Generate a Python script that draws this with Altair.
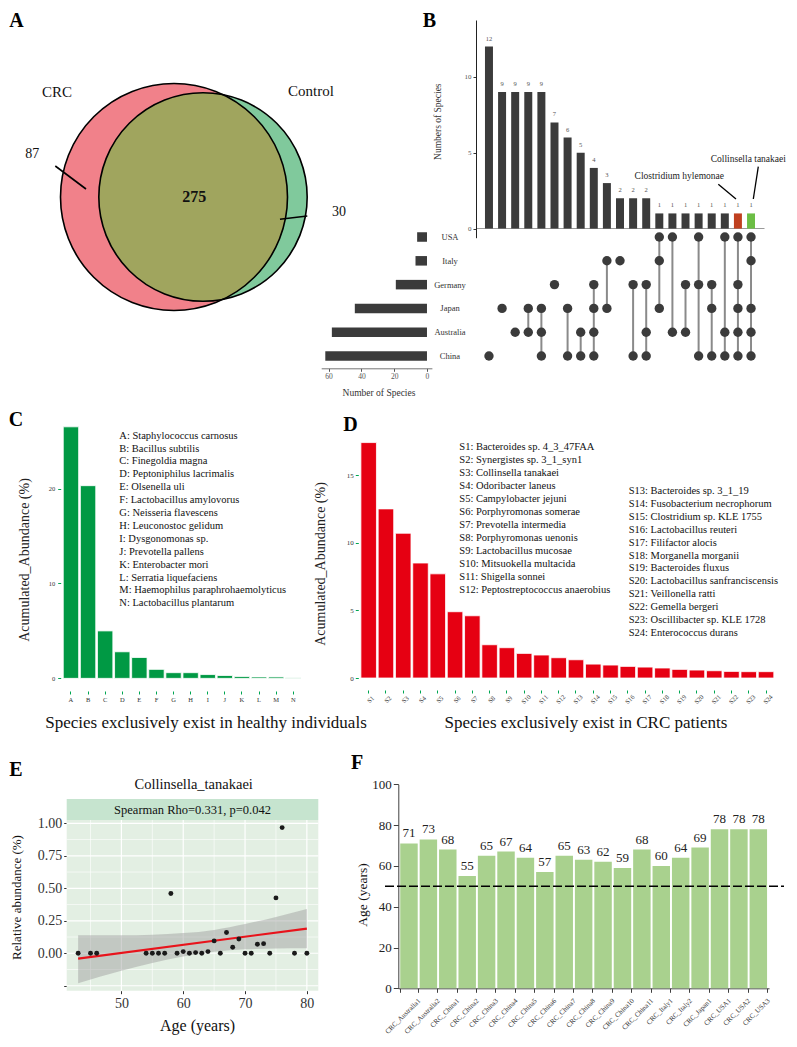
import math
import altair as alt
import pandas as pd

SERIF = "Liberation Serif"
W, H = 781, 1031
M = 8  # page margin


def X(v):
    return v - M


def Y(v):
    return v - M


# ------------------------------------------------------------------ data
venn_groups = ["CRC", "Control"]
venn_unique = [87, 30]
venn_shared = 275

upset_counts = [12, 9, 9, 9, 9, 7, 6, 5, 4, 3, 2, 2, 2, 1, 1, 1, 1, 1, 1, 1, 1]
upset_sets = [
    ["China"], ["Japan"], ["Australia"], ["Japan", "Australia"],
    ["Japan", "Australia", "China"], ["Germany"], ["Japan", "China"],
    ["Australia", "China"], ["Germany", "Japan", "Australia", "China"],
    ["Italy", "Japan"], ["Italy"], ["Germany", "China"],
    ["Germany", "Australia", "China"], ["USA", "Italy", "Japan"],
    ["USA", "Australia"], ["Germany", "Australia"], ["USA", "Germany", "China"],
    ["Germany", "Japan", "China"], ["USA", "Australia", "China"],
    ["USA", "Germany", "Japan", "Australia", "China"],
    ["USA", "Italy", "Japan", "Australia", "China"],
]
upset_group = ["other"] * 19 + ["Clostridium hylemonae", "Collinsella tanakaei"]
countries = ["USA", "Italy", "Germany", "Japan", "Australia", "China"]
country_sizes = [6, 7, 19, 44, 58, 62]

healthy_codes = ["A", "B", "C", "D", "E", "F", "G", "H", "I", "J", "K", "L", "M", "N"]
healthy_species = [
    "Staphylococcus carnosus", "Bacillus subtilis", "Finegoldia magna",
    "Peptoniphilus lacrimalis", "Olsenella uli", "Lactobacillus amylovorus",
    "Neisseria flavescens", "Leuconostoc gelidum", "Dysgonomonas sp.",
    "Prevotella pallens", "Enterobacter mori", "Serratia liquefaciens",
    "Haemophilus paraphrohaemolyticus", "Lactobacillus plantarum",
]
healthy_abund = [26.5, 20.3, 5.0, 2.8, 2.2, 0.95, 0.6, 0.6, 0.4, 0.3, 0.2, 0.15, 0.15, 0.05]

crc_codes = ["S1", "S2", "S3", "S4", "S5", "S6", "S7", "S8", "S9", "S10", "S11", "S12",
             "S13", "S14", "S15", "S16", "S17", "S18", "S19", "S20", "S21", "S22", "S23", "S24"]
crc_species = [
    "Bacteroides sp. 4_3_47FAA", "Synergistes sp. 3_1_syn1", "Collinsella tanakaei",
    "Odoribacter laneus", "Campylobacter jejuni", "Porphyromonas somerae",
    "Prevotella intermedia", "Porphyromonas uenonis", "Lactobacillus mucosae",
    "Mitsuokella multacida", "Shigella sonnei", "Peptostreptococcus anaerobius",
    "Bacteroides sp. 3_1_19", "Fusobacterium necrophorum", "Clostridium sp. KLE 1755",
    "Lactobacillus reuteri", "Filifactor alocis", "Morganella morganii",
    "Bacteroides fluxus", "Lactobacillus sanfranciscensis", "Veillonella ratti",
    "Gemella bergeri", "Oscillibacter sp. KLE 1728", "Enterococcus durans",
]
crc_abund = [17.4, 12.5, 10.7, 8.5, 7.7, 4.9, 4.6, 2.46, 2.24, 1.82, 1.7, 1.5,
             1.35, 1.03, 0.96, 0.86, 0.81, 0.74, 0.64, 0.59, 0.54, 0.49, 0.47, 0.47]

e_age = [43, 45, 46, 54, 55, 56, 57, 58, 59, 60, 61, 62, 63, 64, 65, 66, 67, 68, 69, 70,
         71, 72, 73, 74, 75, 76, 78, 80]
e_abund = [0, 0, 0, 0, 0, 0, 0, 0.46, 0, 0.013, 0, 0.005, 0, 0.013, 0.095, 0, 0.16,
           0.046, 0.11, 0, 0, 0.069, 0.074, 0, 0.426, 0.967, 0, 0]
fit_age = [43, 80]
fit_val = [-0.041, 0.19]
band_age = [43, 50, 55, 60, 65, 70, 75, 80]
band_lo = [-0.23, -0.135, -0.075, -0.025, 0.011, 0.03, 0.037, 0.038]
band_hi = [0.138, 0.138, 0.142, 0.155, 0.18, 0.225, 0.28, 0.34]
e_x_major = [50, 60, 70, 80]
e_x_minor = [45, 55, 65, 75]
e_y_major = [-0.25, 0, 0.25, 0.5, 0.75, 1.0]
e_y_minor = [-0.125, 0.125, 0.375, 0.625, 0.875]

f_samples = ["CRC_Australia1", "CRC_Australia2", "CRC_China1", "CRC_China2", "CRC_China3",
             "CRC_China4", "CRC_China5", "CRC_China6", "CRC_China7", "CRC_China8",
             "CRC_China9", "CRC_China10", "CRC_China11", "CRC_Italy1", "CRC_Italy2",
             "CRC_Japan1", "CRC_USA1", "CRC_USA2", "CRC_USA3"]
f_ages = [71, 73, 68, 55, 65, 67, 64, 57, 65, 63, 62, 59, 68, 60, 64, 69, 78, 78, 78]
age_threshold = [50]

# ------------------------------------------------------------------ helpers
one = pd.DataFrame({"k": [0]})


def lin(d0, d1, p0, p1):
    return alt.Scale(domain=[d0, d1], range=[p0 - M, p1 - M], nice=False, zero=False)


def bandsc(domain, p0, p1, inner, outer):
    return alt.Scale(type="band", domain=domain, range=[p0 - M, p1 - M],
                     paddingInner=inner, paddingOuter=outer)


def pointsc(domain, p0, p1):
    return alt.Scale(type="point", domain=domain, range=[p0 - M, p1 - M], padding=0)


def axis_left(xp, **kw):
    base = dict(orient="left", offset=-(xp - M), title=None, grid=False,
                labelFont=SERIF, labelFlush=False)
    base.update(kw)
    return alt.Axis(**base)


def axis_bottom(yp, **kw):
    base = dict(orient="bottom", offset=(yp - M) - H, title=None, grid=False,
                labelFont=SERIF, labelFlush=False)
    base.update(kw)
    return alt.Axis(**base)


def txt(s, x, y, size, angle=0, weight="normal", align="center", baseline="middle",
        color="#111111"):
    kw = dict(text=s, fontSize=size, fontWeight=weight, align=align, baseline=baseline,
              color=color, font=SERIF)
    if angle:
        kw["angle"] = angle
    return alt.Chart(one).mark_text(**kw).encode(x=alt.value(X(x)), y=alt.value(Y(y)))


def seg(x1, y1, x2, y2, color="black", width=1.5):
    return alt.Chart(one).mark_rule(color=color, strokeWidth=width).encode(
        x=alt.value(X(x1)), y=alt.value(Y(y1)), x2=alt.value(X(x2)), y2=alt.value(Y(y2)))


def box(x1, y1, x2, y2, color):
    return alt.Chart(one).mark_rect(color=color, opacity=1).encode(
        x=alt.value(X(x1)), y=alt.value(Y(y1)), x2=alt.value(X(x2)), y2=alt.value(Y(y2)))


layers = []

# ------------------------------------------------------------------ A: Venn
n_crc = venn_unique[0] + venn_shared
n_ctl = venn_unique[1] + venn_shared
R1 = 113.5
R2 = R1 * math.sqrt(n_ctl / n_crc)
C1 = (174.0, 197.0)
C2 = (203.0, 197.0)
dd = C2[0] - C1[0]
aa = (dd * dd + R1 * R1 - R2 * R2) / (2 * dd)
hh = math.sqrt(R1 * R1 - aa * aa)
ang1 = math.atan2(aa, hh)
ang2 = math.atan2(aa - dd, hh)
PINK, OLIVE, GREEN = "#F1818A", "#A0A55E", "#80C99C"


def disc(c, r, color):
    return alt.Chart(one).mark_circle(size=(2 * r) ** 2, color=color, opacity=1).encode(
        x=alt.value(X(c[0])), y=alt.value(Y(c[1])))


def ring(c, r_in, r_out, t0, t1, color):
    return alt.Chart(one).mark_arc(theta=t0, theta2=t1, radius=r_out, radius2=r_in,
                                   color=color, opacity=1).encode(
        x=alt.value(X(c[0])), y=alt.value(Y(c[1])))


def outline(c, r):
    return alt.Chart(one).mark_point(size=(2 * r) ** 2, shape="circle", filled=False,
                                     color="black", strokeWidth=1.6, opacity=1).encode(
        x=alt.value(X(c[0])), y=alt.value(Y(c[1])))


layers += [
    disc(C1, R1, PINK),
    disc(C2, R2, OLIVE),
    ring(C1, R1, R1 + 23, ang1, math.pi - ang1, GREEN),
    ring(C2, R2, R2 + 66, ang2, math.pi - ang2, "white"),
    outline(C1, R1),
    outline(C2, R2),
    seg(55.3, 166, 86, 189, width=1.6),
    seg(280, 219.3, 307.3, 216, width=1.6),
    txt(venn_groups[0], 57, 92, 15),
    txt(venn_groups[1], 311, 91, 15),
    txt(str(venn_unique[0]), 32.3, 154.3, 14),
    txt(str(venn_shared), 194.3, 197, 16, weight="bold"),
    txt(str(venn_unique[1]), 339, 212.3, 14),
]

# ------------------------------------------------------------------ B: UpSet
col_ids = list(range(1, len(upset_counts) + 1))
upset_df = pd.DataFrame({"col": col_ids, "count": upset_counts, "group": upset_group})


def UX():
    return bandsc(col_ids, 476, 764, 0.39, 0.685)


def UY():
    return lin(-0.6, 13.75, 237.7, 20)


bar_colors = alt.Scale(domain=["other", "Clostridium hylemonae", "Collinsella tanakaei"],
                       range=["#3b3b3b", "#C0401F", "#6CBE45"])

layers.append(alt.Chart(upset_df).mark_bar().encode(
    x=alt.X("col:O", scale=UX(), axis=axis_bottom(228, labels=False, ticks=False,
                                                   domainColor="#9a9a9a", domainWidth=1.2)),
    y=alt.Y("count:Q", scale=UY(),
            axis=axis_left(476, values=[0, 5, 10], tickSize=3, labelFontSize=7,
                           labelColor="#555555", tickColor="#333333", domainColor="#222222",
                           labelPadding=2)),
    y2=alt.datum(0),
    color=alt.Color("group:N", scale=bar_colors, legend=None),
))
layers.append(alt.Chart(upset_df).mark_text(dy=-5, fontSize=6.5, color="#555555",
                                            baseline="bottom", font=SERIF).encode(
    x=alt.X("col:O", scale=UX(), axis=None),
    y=alt.Y("count:Q", scale=UY(), axis=None),
    text="count:Q",
))

dot_df = pd.DataFrame([(c, s) for c, mem in zip(col_ids, upset_sets) for s in mem],
                      columns=["col", "country"])
link_df = pd.DataFrame(
    [(c, min(mem, key=countries.index), max(mem, key=countries.index))
     for c, mem in zip(col_ids, upset_sets) if len(mem) > 1],
    columns=["col", "top", "bottom"])


def MY():
    return pointsc(countries, 237, 356)


layers.append(alt.Chart(link_df).mark_rule(color="#8a8a8a", strokeWidth=2).encode(
    x=alt.X("col:O", scale=UX(), axis=None),
    y=alt.Y("top:N", scale=MY(), axis=None),
    y2="bottom:N",
))
layers.append(alt.Chart(dot_df).mark_circle(size=88, color="#3b3b3b", opacity=1).encode(
    x=alt.X("col:O", scale=UX(), axis=None),
    y=alt.Y("country:N", scale=MY(), axis=None),
))
layers.append(alt.Chart(pd.DataFrame({"country": countries})).mark_text(
    fontSize=8.5, color="#333333", font=SERIF).encode(
    x=alt.value(X(450)),
    y=alt.Y("country:N", scale=MY(), axis=None),
    text="country:N",
))

set_df = pd.DataFrame({"country": countries, "size": country_sizes})
layers.append(alt.Chart(set_df).mark_bar(color="#3b3b3b").encode(
    y=alt.Y("country:N", scale=bandsc(countries, 225.1, 368, 0.6, 0.3), axis=None),
    x=alt.X("size:Q", scale=lin(-3, 64.5, 431.9, 321.2),
            axis=axis_bottom(368.3, values=[0, 20, 40, 60], tickSize=3, labelFontSize=7.5,
                             labelColor="#555555", tickColor="#555555",
                             domainColor="#777777", labelPadding=1)),
    x2=alt.datum(0),
))
layers += [
    txt("Number of Species", 379, 392.7, 9.5, color="#333333"),
    txt("Numbers of Species", 438, 121.7, 9.5, angle=270, color="#333333"),
    txt(upset_group[19], 679.3, 175.7, 9.5, color="#222222"),
    txt(upset_group[20], 748.3, 159, 9.5, color="#222222"),
    seg(718.3, 184.3, 736, 199, width=1.3),
    seg(758.3, 166.7, 753.3, 199, width=1.3),
]

# ------------------------------------------------------------------ C
c_df = pd.DataFrame({"code": healthy_codes, "abund": healthy_abund,
                     "idx": list(range(len(healthy_codes))),
                     "label": [f"{c}: {s}" for c, s in zip(healthy_codes, healthy_species)]})
GTICK = "#00A651"
layers.append(alt.Chart(c_df).mark_bar(color="#009944", stroke="white", strokeWidth=0.8).encode(
    x=alt.X("code:N", scale=bandsc(healthy_codes, 60.7, 303.5, 0.1, 0.15),
            axis=axis_bottom(691, domain=False, tickColor=GTICK, tickSize=3, labelFontSize=6.5,
                             labelColor="#333333", labelPadding=2, labelAngle=0)),
    y=alt.Y("abund:Q", scale=lin(-1.33, 27.85, 691, 414),
            axis=axis_left(60.7, values=[0, 10, 20], domain=False, tickColor=GTICK, tickSize=3,
                           labelFontSize=6.5, labelColor="#333333", labelPadding=3)),
    y2=alt.datum(0),
))
layers.append(alt.Chart(c_df).mark_text(align="left", baseline="middle", fontSize=10.5,
                                        font=SERIF, color="#111111").encode(
    x=alt.value(X(119.3)),
    y=alt.Y("idx:Q", scale=lin(0, 13, 435.7, 603.3), axis=None),
    text="label:N",
))
layers += [
    txt("Acumulated_Abundance (%)", 25, 560, 14, angle=270, color="#222222"),
    txt("Species exclusively exist in healthy individuals", 206, 723.3, 17),
]

# ------------------------------------------------------------------ D
d_df = pd.DataFrame({"code": crc_codes, "abund": crc_abund,
                     "idx": [i % 12 for i in range(len(crc_codes))],
                     "label": [f"{c}: {s}" for c, s in zip(crc_codes, crc_species)]})
layers.append(alt.Chart(d_df).mark_bar(color="#E60012", stroke="white", strokeWidth=0.8).encode(
    x=alt.X("code:N", scale=bandsc(crc_codes, 358.3, 776.4, 0.1, 0.15),
            axis=axis_bottom(690, domain=False, tickColor=GTICK, tickSize=3, labelFontSize=6.5,
                             labelColor="#333333", labelPadding=4, labelAngle=315,
                             labelAlign="center", labelBaseline="top")),
    y=alt.Y("abund:Q", scale=lin(-0.87, 18.27, 689.8, 430.8),
            axis=axis_left(358.3, values=[0, 5, 10, 15], domain=False, tickColor=GTICK,
                           tickSize=3, labelFontSize=7, labelColor="#333333", labelPadding=2)),
    y2=alt.datum(0),
))
layers.append(alt.Chart(d_df.iloc[:12]).mark_text(align="left", baseline="middle", fontSize=10.5,
                                                  font=SERIF, color="#111111").encode(
    x=alt.value(X(459.3)),
    y=alt.Y("idx:Q", scale=lin(0, 11, 447.3, 589.6), axis=None),
    text="label:N",
))
layers.append(alt.Chart(d_df.iloc[12:]).mark_text(align="left", baseline="middle", fontSize=10.5,
                                                  font=SERIF, color="#111111").encode(
    x=alt.value(X(628.7)),
    y=alt.Y("idx:Q", scale=lin(0, 11, 491, 633), axis=None),
    text="label:N",
))
layers += [
    txt("Acumulated_Abundance (%)", 321, 564, 14, angle=270, color="#222222"),
    txt("Species exclusively exist in CRC patients", 586, 723.3, 17),
]

# ------------------------------------------------------------------ E
E_L, E_R, E_T, E_B = 66.7, 318.3, 820, 990.7


def EX():
    return lin(41.15, 81.85, E_L, E_R)


def EY():
    return lin(-0.288, 1.0254, E_B, E_T)


layers += [box(E_L, E_T, E_R, E_B, "#E3EFE3"), box(E_L, 799, E_R, E_T, "#C6E4CF")]
for vals, wdt in ((e_x_minor, 0.6), (e_x_major, 1.2)):
    layers.append(alt.Chart(pd.DataFrame({"v": vals})).mark_rule(color="white", strokeWidth=wdt).encode(
        x=alt.X("v:Q", scale=EX(), axis=None),
        y=alt.value(Y(E_T)), y2=alt.value(Y(E_B))))
for vals, wdt in ((e_y_minor, 0.6), (e_y_major, 1.2)):
    layers.append(alt.Chart(pd.DataFrame({"v": vals})).mark_rule(color="white", strokeWidth=wdt).encode(
        y=alt.Y("v:Q", scale=EY(), axis=None),
        x=alt.value(X(E_L)), x2=alt.value(X(E_R))))

band_df = pd.DataFrame({"age": band_age, "lo": band_lo, "hi": band_hi})
layers.append(alt.Chart(band_df).mark_area(color="#9a9a9a", opacity=0.45,
                                           interpolate="monotone").encode(
    x=alt.X("age:Q", scale=EX(), axis=None),
    y=alt.Y("lo:Q", scale=EY(), axis=None),
    y2="hi:Q",
))
layers.append(alt.Chart(pd.DataFrame({"age": fit_age, "v": fit_val})).mark_line(
    color="#E8131B", strokeWidth=2.2).encode(
    x=alt.X("age:Q", scale=EX(), axis=None),
    y=alt.Y("v:Q", scale=EY(), axis=None),
))
layers.append(alt.Chart(pd.DataFrame({"age": e_age, "abund": e_abund})).mark_circle(
    size=24, color="#1a1a1a", opacity=1).encode(
    x=alt.X("age:Q", scale=EX(),
            axis=axis_bottom(E_B, values=e_x_major, domain=False, tickSize=3, tickColor="#333333",
                             labelFontSize=14, labelColor="#333333", labelPadding=3)),
    y=alt.Y("abund:Q", scale=EY(),
            axis=axis_left(E_L, values=e_y_major, domain=False, tickSize=3, tickColor="#333333",
                           labelFontSize=14, labelColor="#333333", labelPadding=2,
                           labelExpr="datum.value < -0.1 ? '' : format(datum.value, '.2f')")),
))
layers += [
    txt("Collinsella_tanakaei", 193.7, 785, 14.5),
    txt("Spearman Rho=0.331, p=0.042", 192.5, 810, 12.5),
    txt("Relative abundance (%)", 16.7, 897.5, 13, angle=270),
    txt("Age (years)", 197.5, 1026, 16),
]

# ------------------------------------------------------------------ F
f_df = pd.DataFrame({"sample": f_samples, "age": f_ages})


def FX():
    return bandsc(f_samples, 398.3, 769, 0.1, 0.1)


def FY():
    return lin(0, 100, 988.3, 784.3)


layers.append(alt.Chart(f_df).mark_bar(color="#A9D18E").encode(
    x=alt.X("sample:N", scale=FX(),
            axis=axis_bottom(988.3, domainColor="#404040", tickColor="#404040", tickSize=4,
                             tickBand="extent", labelAngle=315, labelAlign="right",
                             labelBaseline="middle", labelFontSize=7, labelColor="#333333",
                             labelPadding=7, labelOffset=10)),
    y=alt.Y("age:Q", scale=FY(),
            axis=axis_left(398.3, values=[0, 20, 40, 60, 80, 100], domainColor="#404040",
                           tickColor="#404040", tickSize=5, labelFontSize=13,
                           labelColor="#222222", labelPadding=2)),
    y2=alt.datum(0),
))
layers.append(alt.Chart(f_df).mark_text(dy=-3, baseline="bottom", fontSize=13, font=SERIF,
                                        color="#222222").encode(
    x=alt.X("sample:N", scale=FX(), axis=None),
    y=alt.Y("age:Q", scale=FY(), axis=None),
    text="age:Q",
))
layers.append(alt.Chart(pd.DataFrame({"v": age_threshold})).mark_rule(
    color="black", strokeWidth=1.5, strokeDash=[9, 3]).encode(
    y=alt.Y("v:Q", scale=FY(), axis=None),
    x=alt.value(X(385)), x2=alt.value(X(784)),
))
layers.append(txt("Age (years)", 362.7, 895, 13.5, angle=270))

# ------------------------------------------------------------------ panel letters
for letter, lx, ly in (("A", 16.5, 26.5), ("B", 429.5, 26.5), ("C", 16, 426),
                       ("D", 350.5, 430.7), ("E", 16, 775.7), ("F", 357, 769.3)):
    layers.append(txt(letter, lx, ly, 20, weight="bold", color="black", baseline="alphabetic"))

chart = alt.layer(*layers).resolve_scale(
    x="independent", y="independent", color="independent"
).resolve_axis(
    x="independent", y="independent"
).properties(
    width=W, height=H, autosize=alt.AutoSizeParams(type="none"), padding=0
).configure_view(stroke=None).configure_axis(labelFont=SERIF).configure_text(font=SERIF)

chart.save("out.html", embed_options={"renderer": "svg", "actions": False})
